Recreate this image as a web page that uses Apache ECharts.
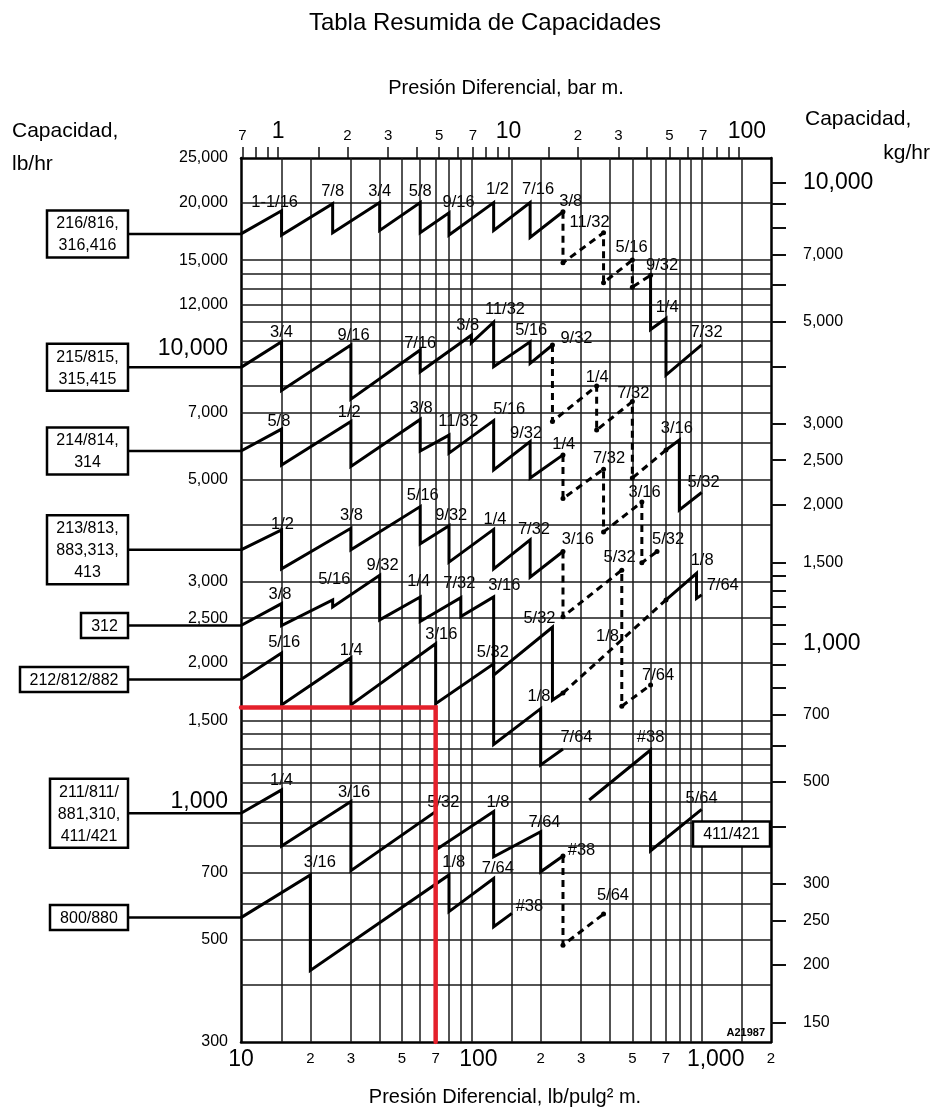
<!DOCTYPE html>
<html>
<head>
<meta charset="utf-8">
<title>Tabla Resumida de Capacidades</title>
<script src="https://cdn.jsdelivr.net/npm/echarts@6/dist/echarts.min.js"></script>
<style>
  html, body { margin: 0; padding: 0; background: #fff; }
  #chart { width: 940px; height: 1116px; }
</style>
</head>
<body>
<div id="chart"></div>
<script>
// ---- axis ranges ----
const PSI_MIN = 10, PSI_MAX = 2000;
const LB_MIN = 300, LB_MAX = 25000;
const PSI_PER_BAR = 14.5038;
const LB_PER_KG = 2.20462;

// ---- tick values and labels ----
const psiLabelVals = [10, 20, 30, 50, 70, 100, 200, 300, 500, 700, 1000, 2000];
const psiLabelText = ['10', '2', '3', '5', '7', '100', '2', '3', '5', '7', '1,000', '2'];
const barTickVals = [0.7, 0.8, 0.9, 1, 1.5, 2, 3, 4, 5, 6, 7, 8, 9, 10, 15, 20, 30, 40, 50, 60, 70, 80, 90, 100];
const barLabelVals = [0.7, 1, 2, 3, 5, 7, 10, 20, 30, 50, 70, 100];
const barLabelText = ['7', '1', '2', '3', '5', '7', '10', '2', '3', '5', '7', '100'];
const lbLabelVals = [300, 500, 700, 1000, 1500, 2000, 2500, 3000, 5000, 7000, 10000, 12000, 15000, 20000, 25000];
const kgTickVals = [150, 200, 250, 300, 400, 500, 600, 700, 800, 900, 1000, 1100, 1200, 1300, 1400, 1500, 2000, 2500, 3000, 4000, 5000, 6000, 7000, 8000, 9000, 10000];
const kgLabelVals = [150, 200, 250, 300, 500, 700, 1000, 1500, 2000, 2500, 3000, 5000, 7000, 10000];

// ---- chart rulings (psi verticals, lb/hr horizontals) ----
const vGrid = [15, 20, 30, 40, 50, 60, 70, 80, 90, 100, 150, 200, 300, 400, 500, 600, 700, 800, 900, 1000, 1500];
const hGrid = [400, 500, 600, 700, 800, 900, 1000, 1100, 1200, 1300, 1400, 1500, 2000, 2500, 3000, 4000, 5000, 6000, 7000, 8000, 9000, 10000, 11000, 12000, 13000, 14000, 15000, 20000];

// ---- capacity curves: [psi, lb/hr] ----
const m216 = [[10,17100],[15,19200],[15,17000],[25,19900],[25,17200],[40,20000],[40,17400],[60,20000],[60,17200],[80,19000],[80,17000],[125,20000],[125,17400],[180,20000],[180,16800],[250,19100]];
const m216Ext = [[250,19100],[250,14800],[375,17200],[375,13400],[500,15000],[500,13100],[600,13900]];
const m216Hi = [[600,13900],[600,10600],[700,11200],[700,8440],[1000,9810]];

const m215 = [[10,8770],[15,9970],[15,7810],[30,9810],[30,7480],[60,9570],[60,8580],[100,10300],[100,9920],[125,11000],[125,8800],[180,9970],[180,8950],[225,9810]];
const m215Ext = [[225,9810],[225,6690],[350,7990],[350,6410],[500,7390],[500,5040],[700,5800]];
const m215Hi = [[700,5800],[800,6100],[800,4300],[1000,4690]];

const m214 = [[10,5770],[15,6440],[15,5380],[30,6690],[30,5340],[60,6760],[60,5770],[80,6250],[80,5710],[125,6720],[125,5250],[180,6050],[180,5040],[250,5660]];
const m214Ext = [[250,5660],[250,4550],[375,5270],[375,3850],[550,4470],[550,3300],[640,3490]];

const m213 = [[10,3520],[15,3890],[15,3200],[30,3920],[30,3520],[60,4370],[60,3630],[80,3970],[80,3310],[125,3900],[125,3200],[180,3700],[180,3070],[250,3490]];
const m213Ext = [[250,3490],[250,2520],[450,3180],[450,1610],[600,1790]];

const m312 = [[10,2410],[15,2690],[15,2410],[25,2740],[25,2645],[40,3100],[40,2480],[60,2780],[60,2460],[90,2770],[90,2520],[125,2780],[125,1880],[225,2390],[225,1660],[250,1720]];
const m312Ext = [[250,1720],[700,2740]];
const m312Hi = [[700,2740],[950,3130],[950,2760],[1000,2810]];

const m212 = [[10,1840],[15,2100],[15,1620],[30,2050],[30,1620],[70,2200],[70,1630],[125,1990],[125,1330],[200,1590],[200,1200],[250,1300]];

const m211 = [[10,942],[15,1059],[15,800],[30,999],[30,707],[70,950],[70,784],[125,950],[125,758],[200,859],[200,703],[250,761]];
const m211Ext = [[250,761],[250,487],[375,569]];

const m800 = [[10,559],[20,692],[20,429],[80,692],[80,576],[125,680],[125,534],[150,571]];

const m411 = [[325,1007],[600,1293],[600,781],[1000,961]];

// worked example: 70 psi, 1600 lb/hr
const example = [[10,1600],[70,1600],[70,300]];

// ---- orifice labels: [psi, lb/hr, text] ----
const lbl216 = [[14,20000,'1-1/16'],[25,21100,'7/8'],[40,21100,'3/4'],[60,21100,'5/8'],[88,20000,'9/16'],[130,21400,'1/2'],[195,21400,'7/16'],[270,20150,'3/8'],[326,18070,'11/32'],[496,15940,'5/16'],[673,14640,'9/32'],[708,11810,'1/4'],[1050,10470,'7/32']];
const lbl215 = [[15,10430,'3/4'],[30.8,10280,'9/16'],[60,9890,'7/16'],[96.5,10840,'3/8'],[140,11730,'11/32'],[182,10540,'5/16'],[286,10140,'9/32'],[352,8350,'1/4'],[505,7700,'7/32'],[780,6450,'3/16'],[1020,4930,'5/32']];
const lbl214 = [[14.6,6690,'5/8'],[29.5,7000,'1/2'],[60.6,7150,'3/8'],[87.8,6690,'11/32'],[146,7090,'5/16'],[173,6310,'9/32'],[252,5950,'1/4'],[396,5570,'7/32'],[565,4700,'3/16'],[715,3700,'5/32']];
const lbl213 = [[15.15,4000,'1/2'],[30.2,4190,'3/8'],[61.5,4610,'5/16'],[81.8,4190,'9/32'],[126.6,4090,'1/4'],[187,3890,'7/32'],[290,3700,'3/16'],[440,3380,'5/32'],[390,2280,'1/8'],[647,1880,'7/64']];
const lbl312 = [[14.78,2820,'3/8'],[25.4,3030,'5/16'],[41.2,3260,'9/32'],[59.1,3000,'1/4'],[88.7,2980,'7/32'],[139,2950,'3/16'],[197.6,2500,'5/32'],[1005,3340,'1/8'],[1234,2950,'7/64']];
const lbl212 = [[15.4,2210,'5/16'],[30.1,2130,'1/4'],[74.1,2300,'3/16'],[124,2110,'5/32'],[196.6,1690,'1/8'],[286,1380,'7/64']];
const lbl211 = [[15,1113,'1/4'],[31,1048,'3/16'],[75.6,997,'5/32'],[130.4,997,'1/8'],[207.7,899,'7/64'],[300.8,784,'#38'],[412,626,'5/64']];
const lbl800 = [[22,738,'3/16'],[83.9,735,'1/8'],[130.4,716,'7/64'],[178.7,590,'#38']];
const lbl411 = [[600,1380,'#38'],[1000,1016,'5/64']];

// ---- model boxes: start curve, text, box left/right in px ----
const models = [
  [m216, '216/816,\n316,416', 47, 128],
  [m215, '215/815,\n315,415', 47, 128],
  [m214, '214/814,\n314', 47, 128],
  [m213, '213/813,\n883,313,\n413', 47, 128],
  [m312, '312', 81, 128],
  [m212, '212/812/882', 20, 128],
  [m211, '211/811/\n881,310,\n411/421', 50, 128],
  [m800, '800/880', 50, 128]
];

const FONT = "'Liberation Sans', Arial, Helvetica, sans-serif";
const INK = '#000';

function idxOf(v, list) {
  for (let i = 0; i < list.length; i++) {
    if (Math.abs(v - list[i]) / list[i] < 1e-3) return i;
  }
  return -1;
}
function withCommas(v) {
  return Math.round(v).toString().replace(/\B(?=(\d{3})+(?!\d))/g, ',');
}

const solidPaths = [m216, m216Hi, m215, m215Hi, m214, m213, m312, m312Hi, m212, m211, m800, m411];
const dashedPaths = [m216Ext, m215Ext, m214Ext, m213Ext, m312Ext, m211Ext];
const allLabels = [].concat(lbl216, lbl215, lbl214, lbl213, lbl312, lbl212, lbl211, lbl800, lbl411);

const series = [];

// rulings drawn as mark lines behind everything
series.push({
  type: 'line', data: [], xAxisIndex: 0, yAxisIndex: 0, silent: true, z: 1,
  markLine: {
    silent: true, symbol: 'none', animation: false,
    label: { show: false },
    lineStyle: { color: '#1a1a1a', width: 1.5, type: 'solid' },
    emphasis: { disabled: true },
    data: vGrid.map(v => ({ xAxis: v })).concat(hGrid.map(v => ({ yAxis: v })))
  }
});

solidPaths.forEach(d => series.push({
  type: 'line', data: d, xAxisIndex: 0, yAxisIndex: 0, symbol: 'none', silent: true, z: 6,
  lineStyle: { color: '#000', width: 3, join: 'miter', miterLimit: 3, cap: 'butt' }
}));

dashedPaths.forEach(d => series.push({
  type: 'line', data: d, xAxisIndex: 0, yAxisIndex: 0, silent: true, z: 6,
  showSymbol: true, symbol: 'circle', symbolSize: 5, itemStyle: { color: '#000' },
  lineStyle: { color: '#000', width: 3, type: [7, 5] }
}));

// orifice size labels, each on a white patch that interrupts the rulings
series.push({
  type: 'scatter', xAxisIndex: 0, yAxisIndex: 0, silent: true, z: 4,
  data: allLabels.map(l => ({ value: [l[0], l[1]], name: l[2] })),
  symbolSize: 1, itemStyle: { color: 'rgba(0,0,0,0)', opacity: 1 },
  label: {
    show: true, position: 'inside', formatter: p => p.name,
    fontFamily: FONT, fontSize: 16.5, color: INK, opacity: 1,
    textBorderWidth: 0, textBorderColor: 'transparent',
    backgroundColor: '#fff', padding: [1, 3]
  }
});

series.push({
  type: 'line', data: example, xAxisIndex: 0, yAxisIndex: 0, symbol: 'none', silent: true, z: 10,
  lineStyle: { color: '#e4202b', width: 4.5, cap: 'round', join: 'miter' }
});

const chart = echarts.init(document.getElementById('chart'), null, { renderer: 'canvas' });

chart.setOption({
  animation: false,
  backgroundColor: '#fff',
  textStyle: { fontFamily: FONT },
  grid: { left: 241, top: 158, width: 530, height: 884, containLabel: false, outerBoundsMode: 'none' },
  xAxis: [
    {
      type: 'log', logBase: 10, min: PSI_MIN, max: PSI_MAX, position: 'bottom',
      axisLine: { show: true, lineStyle: { color: '#000', width: 2.5 } },
      axisTick: { show: false },
      splitLine: { show: false },
      axisLabel: {
        customValues: psiLabelVals, margin: 6, color: INK,
        formatter: v => {
          const i = idxOf(v, psiLabelVals);
          if (i < 0) return '';
          const t = psiLabelText[i];
          if (t === '10') return '{b|10}';
          if (t === '100') return '{b1|100}';
          if (t === '1,000') return '{b2|1,000}';
          return '{s|' + t + '}';
        },
        rich: {
          b: { fontSize: 23, fontFamily: FONT, color: INK },
          b1: { fontSize: 23, fontFamily: FONT, color: INK, padding: [0, 0, 0, 14] },
          b2: { fontSize: 23, fontFamily: FONT, color: INK, padding: [0, 0, 0, 28] },
          s: { fontSize: 15, fontFamily: FONT, color: INK, padding: [3, 0, 0, 0] }
        }
      }
    },
    {
      type: 'log', logBase: 10, min: PSI_MIN / PSI_PER_BAR, max: PSI_MAX / PSI_PER_BAR, position: 'top',
      axisLine: { show: true, lineStyle: { color: '#000', width: 2.5 } },
      axisTick: { show: true, customValues: barTickVals, length: 11, lineStyle: { color: '#111', width: 1.5 } },
      splitLine: { show: false },
      axisLabel: {
        customValues: barLabelVals, margin: 15, color: INK,
        formatter: v => {
          const i = idxOf(v, barLabelVals);
          if (i < 0) return '';
          const t = barLabelText[i];
          if (t === '1' || t === '10') return '{b|' + t + '}';
          if (t === '100') return '{b1|100}';
          return '{s|' + t + '}';
        },
        rich: {
          b: { fontSize: 23, fontFamily: FONT, color: INK },
          b1: { fontSize: 23, fontFamily: FONT, color: INK, padding: [0, 0, 0, 16] },
          s: { fontSize: 15, fontFamily: FONT, color: INK }
        }
      }
    }
  ],
  yAxis: [
    {
      type: 'log', logBase: 10, min: LB_MIN, max: LB_MAX, position: 'left',
      axisLine: { show: true, lineStyle: { color: '#000', width: 2.5 } },
      axisTick: { show: false },
      splitLine: { show: false },
      axisLabel: {
        customValues: lbLabelVals, margin: 13, color: INK,
        formatter: v => {
          const r = Math.round(v);
          const t = withCommas(r);
          if (r === 10000) return '{b10|' + t + '}';
          if (r === 1000) return '{b|' + t + '}';
          return '{s|' + t + '}';
        },
        rich: {
          b: { fontSize: 23, fontFamily: FONT, color: INK },
          b10: { fontSize: 23, fontFamily: FONT, color: INK, padding: [16, 0, 0, 0] },
          s: { fontSize: 16, fontFamily: FONT, color: INK }
        }
      }
    },
    {
      type: 'log', logBase: 10, min: LB_MIN / LB_PER_KG, max: LB_MAX / LB_PER_KG, position: 'right',
      axisLine: { show: true, lineStyle: { color: '#000', width: 2.5 } },
      axisTick: { show: true, customValues: kgTickVals, length: 15, lineStyle: { color: '#111', width: 2 } },
      splitLine: { show: false },
      axisLabel: {
        customValues: kgLabelVals, margin: 32, color: INK,
        formatter: v => {
          const r = Math.round(v);
          const t = withCommas(r);
          return (r === 1000 || r === 10000) ? '{b|' + t + '}' : '{s|' + t + '}';
        },
        rich: {
          b: { fontSize: 23, fontFamily: FONT, color: INK },
          s: { fontSize: 16, fontFamily: FONT, color: INK }
        }
      }
    }
  ],
  series: series
});

// titles, model boxes and their leader lines
const graphics = [
  { type: 'text', style: { text: 'Tabla Resumida de Capacidades', x: 485, y: 23, align: 'center', verticalAlign: 'middle', font: '24px ' + FONT, fill: INK } },
  { type: 'text', style: { text: 'Presión Diferencial, bar m.', x: 506, y: 88, align: 'center', verticalAlign: 'middle', font: '20px ' + FONT, fill: INK } },
  { type: 'text', style: { text: 'Presión Diferencial, lb/pulg² m.', x: 505, y: 1097, align: 'center', verticalAlign: 'middle', font: '20px ' + FONT, fill: INK } },
  { type: 'text', style: { text: 'Capacidad,', x: 12, y: 131, align: 'left', verticalAlign: 'middle', font: '21px ' + FONT, fill: INK } },
  { type: 'text', style: { text: 'lb/hr', x: 12, y: 164, align: 'left', verticalAlign: 'middle', font: '21px ' + FONT, fill: INK } },
  { type: 'text', style: { text: 'Capacidad,', x: 805, y: 119, align: 'left', verticalAlign: 'middle', font: '21px ' + FONT, fill: INK } },
  { type: 'text', style: { text: 'kg/hr', x: 930, y: 153, align: 'right', verticalAlign: 'middle', font: '21px ' + FONT, fill: INK } },
  { type: 'text', z: 20, style: { text: 'A21987', x: 765, y: 1033, align: 'right', verticalAlign: 'middle', font: 'bold 11px ' + FONT, fill: INK } }
];

const gridLeft = chart.convertToPixel({ xAxisIndex: 0 }, PSI_MIN);
const gridRight = chart.convertToPixel({ xAxisIndex: 0 }, PSI_MAX);

models.forEach(m => {
  const start = m[0][0];
  const cy = chart.convertToPixel({ xAxisIndex: 0, yAxisIndex: 0 }, start)[1];
  const lines = m[1].split('\n').length;
  const h = 22 * lines + 3;
  const left = m[2], right = m[3];
  graphics.push({ type: 'line', z: 5, shape: { x1: right, y1: cy, x2: gridLeft, y2: cy }, style: { stroke: '#000', lineWidth: 2.5 } });
  graphics.push({ type: 'rect', z: 5, shape: { x: left, y: cy - h / 2, width: right - left, height: h }, style: { fill: '#fff', stroke: '#000', lineWidth: 2.5 } });
  graphics.push({ type: 'text', z: 6, style: { text: m[1], x: (left + right) / 2, y: cy + 1, align: 'center', verticalAlign: 'middle', font: '16px ' + FONT, lineHeight: 22, fill: INK } });
});

// 411/421 box sits against the right border below its curve
{
  const cy = chart.convertToPixel({ xAxisIndex: 0, yAxisIndex: 0 }, [PSI_MAX, 849])[1];
  const h = 25, right = gridRight - 1, left = right - 77;
  graphics.push({ type: 'rect', z: 7, shape: { x: left, y: cy - h / 2, width: right - left, height: h }, style: { fill: '#fff', stroke: '#000', lineWidth: 2.5 } });
  graphics.push({ type: 'text', z: 8, style: { text: '411/421', x: (left + right) / 2, y: cy + 1, align: 'center', verticalAlign: 'middle', font: '16px ' + FONT, fill: INK } });
}

chart.setOption({ graphic: graphics });
</script>
</body>
</html>
